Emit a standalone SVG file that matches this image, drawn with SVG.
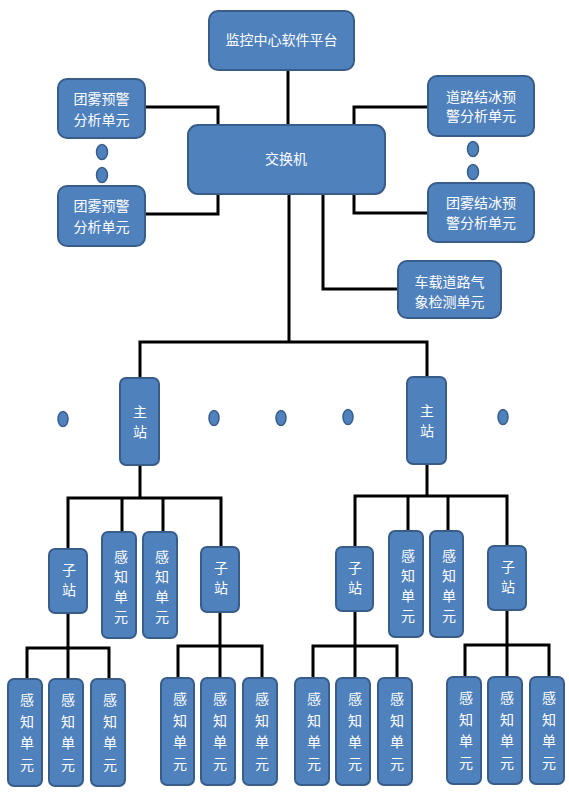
<svg xmlns="http://www.w3.org/2000/svg" width="569" height="796" viewBox="0 0 569 796">
<style>
.n{fill:#4F81BD;stroke:#385D8A;stroke-width:2}
.d{fill:#4F81BD;stroke:#385D8A;stroke-width:1.5}
.t{fill:#fff;font-family:"Noto Sans CJK SC","Liberation Sans",sans-serif;font-size:14px;text-anchor:middle}
.c{fill:none;stroke:#000;stroke-width:3}
</style>
<rect width="569" height="796" fill="#fff"/>
<g id="connectors" class="c">
<path d="M288 70V125"/>
<path d="M145 107H218V125"/>
<path d="M145 214H218V194"/>
<path d="M428 107H354V125"/>
<path d="M428 213H354V194"/>
<path d="M323 194V289H398"/>
<path d="M289 194V342"/>
<path d="M140 378V342H427V377"/>
<path d="M140 465V498"/>
<path d="M68 549V498H221V547"/>
<path d="M122 498V532M163 498V532"/>
<path d="M427 464V496"/>
<path d="M355 547V496H507V546"/>
<path d="M408 496V531M448 496V531"/>
<path d="M68 613V648"/>
<path d="M27 679V648H109V679M68 648V679"/>
<path d="M220 612V646"/>
<path d="M178 678V646H262V678M220 646V678"/>
<path d="M355 611V646"/>
<path d="M313 678V646H397V678M355 646V678"/>
<path d="M507 610V645"/>
<path d="M465 677V645H549V677M507 645V677"/>
</g>
<g id="platform"><rect class="n" x="209" y="11" width="145" height="59" rx="9"/><text class="t" x="281.5" y="45">监控中心软件平台</text></g>
<g id="switch"><rect class="n" x="188" y="125" width="197" height="69" rx="10"/><text class="t" x="286" y="164">交换机</text></g>
<g id="fog1"><rect class="n" x="58" y="79" width="87" height="59" rx="9"/><text class="t" x="101.5" y="104">团雾预警</text><text class="t" x="101.5" y="125">分析单元</text></g>
<g id="fog2"><rect class="n" x="58" y="186" width="87" height="60" rx="9"/><text class="t" x="101.5" y="211">团雾预警</text><text class="t" x="101.5" y="232">分析单元</text></g>
<g id="dotsL"><ellipse class="d" cx="102" cy="152" rx="5.5" ry="7.5"/><ellipse class="d" cx="102" cy="175" rx="5.5" ry="7.5"/></g>
<g id="ice"><rect class="n" x="428" y="76" width="106" height="60" rx="9"/><text class="t" x="481" y="102">道路结冰预</text><text class="t" x="481" y="121">警分析单元</text></g>
<g id="fogice"><rect class="n" x="428" y="183" width="106" height="59" rx="9"/><text class="t" x="481" y="208">团雾结冰预</text><text class="t" x="481" y="228">警分析单元</text></g>
<g id="dotsR"><ellipse class="d" cx="473" cy="149" rx="5.5" ry="7.5"/><ellipse class="d" cx="473" cy="172" rx="5.5" ry="7.5"/></g>
<g id="vehicle"><rect class="n" x="398" y="261" width="103" height="57" rx="9"/><text class="t" x="449.5" y="287">车载道路气</text><text class="t" x="449.5" y="307">象检测单元</text></g>
<g id="dotsM">
<ellipse class="d" cx="63" cy="419" rx="5" ry="7.5"/>
<ellipse class="d" cx="214" cy="418" rx="5" ry="7.5"/>
<ellipse class="d" cx="281" cy="418" rx="5" ry="7.5"/>
<ellipse class="d" cx="348" cy="417" rx="5" ry="7.5"/>
<ellipse class="d" cx="503" cy="417" rx="5" ry="7.5"/>
</g>
<g id="main1"><rect class="n" x="120" y="378" width="39" height="87" rx="6"/><text class="t" x="140" y="417">主</text><text class="t" x="140" y="437">站</text></g>
<g id="main2"><rect class="n" x="407" y="377" width="39" height="87" rx="6"/><text class="t" x="427" y="416">主</text><text class="t" x="427" y="436">站</text></g>
<g id="sub1"><rect class="n" x="49" y="549" width="38" height="64" rx="6"/><text class="t" x="69" y="575">子</text><text class="t" x="69" y="595">站</text></g>
<g id="sub2"><rect class="n" x="201" y="547" width="38" height="65" rx="6"/><text class="t" x="221" y="573">子</text><text class="t" x="221" y="593">站</text></g>
<g id="sub3"><rect class="n" x="336" y="547" width="37" height="64" rx="6"/><text class="t" x="355" y="573">子</text><text class="t" x="355" y="593">站</text></g>
<g id="sub4"><rect class="n" x="488" y="546" width="38" height="64" rx="6"/><text class="t" x="508" y="572">子</text><text class="t" x="508" y="592">站</text></g>
<g id="s1"><rect class="n" x="102" y="532" width="34" height="106" rx="6"/><text class="t" x="121" y="562">感</text><text class="t" x="121" y="582">知</text><text class="t" x="121" y="602">单</text><text class="t" x="121" y="622">元</text></g>
<g id="s2"><rect class="n" x="143" y="532" width="34" height="106" rx="6"/><text class="t" x="162" y="562">感</text><text class="t" x="162" y="582">知</text><text class="t" x="162" y="602">单</text><text class="t" x="162" y="622">元</text></g>
<g id="s3"><rect class="n" x="389" y="531" width="34" height="106" rx="6"/><text class="t" x="408" y="561">感</text><text class="t" x="408" y="581">知</text><text class="t" x="408" y="601">单</text><text class="t" x="408" y="621">元</text></g>
<g id="s4"><rect class="n" x="430" y="531" width="33" height="106" rx="6"/><text class="t" x="449" y="561">感</text><text class="t" x="449" y="581">知</text><text class="t" x="449" y="601">单</text><text class="t" x="449" y="621">元</text></g>
<g id="b1"><rect class="n" x="8" y="679" width="34" height="107" rx="6"/><text class="t" x="27" y="705">感</text><text class="t" x="27" y="727">知</text><text class="t" x="27" y="748">单</text><text class="t" x="27" y="770">元</text></g>
<g id="b2"><rect class="n" x="49" y="679" width="34" height="107" rx="6"/><text class="t" x="68" y="705">感</text><text class="t" x="68" y="727">知</text><text class="t" x="68" y="748">单</text><text class="t" x="68" y="770">元</text></g>
<g id="b3"><rect class="n" x="91" y="679" width="34" height="107" rx="6"/><text class="t" x="110" y="705">感</text><text class="t" x="110" y="727">知</text><text class="t" x="110" y="748">单</text><text class="t" x="110" y="770">元</text></g>
<g id="b4"><rect class="n" x="161" y="678" width="33" height="107" rx="6"/><text class="t" x="180" y="704">感</text><text class="t" x="180" y="726">知</text><text class="t" x="180" y="747">单</text><text class="t" x="180" y="769">元</text></g>
<g id="b5"><rect class="n" x="201" y="678" width="34" height="107" rx="6"/><text class="t" x="220" y="704">感</text><text class="t" x="220" y="726">知</text><text class="t" x="220" y="747">单</text><text class="t" x="220" y="769">元</text></g>
<g id="b6"><rect class="n" x="243" y="678" width="34" height="107" rx="6"/><text class="t" x="262" y="704">感</text><text class="t" x="262" y="726">知</text><text class="t" x="262" y="747">单</text><text class="t" x="262" y="769">元</text></g>
<g id="b7"><rect class="n" x="295" y="678" width="34" height="107" rx="6"/><text class="t" x="314" y="704">感</text><text class="t" x="314" y="726">知</text><text class="t" x="314" y="747">单</text><text class="t" x="314" y="769">元</text></g>
<g id="b8"><rect class="n" x="336" y="678" width="34" height="107" rx="6"/><text class="t" x="355" y="704">感</text><text class="t" x="355" y="726">知</text><text class="t" x="355" y="747">单</text><text class="t" x="355" y="769">元</text></g>
<g id="b9"><rect class="n" x="378" y="678" width="34" height="107" rx="6"/><text class="t" x="397" y="704">感</text><text class="t" x="397" y="726">知</text><text class="t" x="397" y="747">单</text><text class="t" x="397" y="769">元</text></g>
<g id="b10"><rect class="n" x="447" y="677" width="34" height="107" rx="6"/><text class="t" x="466" y="703">感</text><text class="t" x="466" y="725">知</text><text class="t" x="466" y="746">单</text><text class="t" x="466" y="768">元</text></g>
<g id="b11"><rect class="n" x="488" y="677" width="34" height="107" rx="6"/><text class="t" x="507" y="703">感</text><text class="t" x="507" y="725">知</text><text class="t" x="507" y="746">单</text><text class="t" x="507" y="768">元</text></g>
<g id="b12"><rect class="n" x="530" y="677" width="34" height="107" rx="6"/><text class="t" x="549" y="703">感</text><text class="t" x="549" y="725">知</text><text class="t" x="549" y="746">单</text><text class="t" x="549" y="768">元</text></g>
</svg>
